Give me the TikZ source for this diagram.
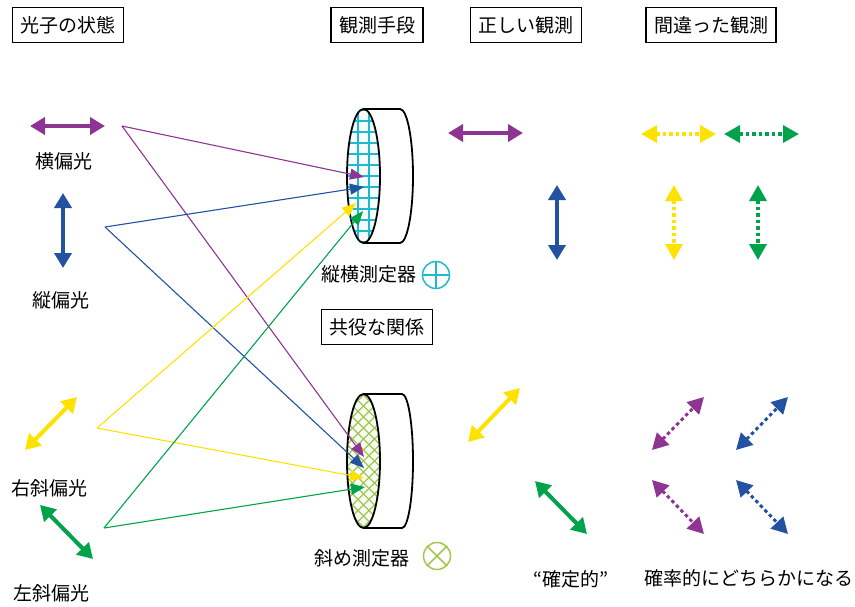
\documentclass[tikz,border=0pt]{standalone}
\usepackage{fontspec}
\setmainfont{Noto Sans CJK JP}
\usetikzlibrary{arrows.meta}

\definecolor{hpol}{RGB}{142,52,146}
\definecolor{vpol}{RGB}{35,82,160}
\definecolor{rpol}{RGB}{255,226,0}
\definecolor{lpol}{RGB}{0,163,76}
\definecolor{gridc}{RGB}{30,185,205}
\definecolor{hatchc}{RGB}{160,200,80}

\begin{document}
\begin{tikzpicture}[
        x=1pt, y=-1pt,
        every node/.style={font=\fontsize{19}{22}\selectfont},
        title/.style={rectangle, draw, line width=1.5pt, minimum height=35pt, inner xsep=8pt},
        lab/.style={inner sep=0pt},
        pol/.style={line width=4pt, {Triangle[length=15pt,width=17pt]}-{Triangle[length=15pt,width=17pt]}},
        guess/.style={line width=3.5pt, dash pattern=on 3.5pt off 3pt, {Triangle[length=16pt,width=17pt]}-{Triangle[length=16pt,width=17pt]}},
        ray/.style={line width=1.1pt, -{Triangle[length=14pt,width=11pt]}},
        body/.style={fill=white, draw, line width=1.8pt},
        meter/.style={circle, draw, line width=1.5pt, minimum size=27pt, inner sep=0pt}
    ]
    \useasboundingbox (0,0) rectangle (855,606);

    % Section titles
    \node[title] (state) at (68,25) {光子の状態};
    \node[title] (means) at (377,25) {観測手段};
    \node[title] (good) at (526,25) {正しい観測};
    \node[title] (bad) at (711,25) {間違った観測};
    \node[title] (conj) at (377,327) {共役な関係};

    % Labels
    \node[lab] (hlab) at (64,161) {横偏光};
    \node[lab] (vlab) at (61,300) {縦偏光};
    \node[lab] (rlab) at (50,488) {右斜偏光};
    \node[lab] (llab) at (51,593) {左斜偏光};
    \node[lab] (hvlab) at (369,274) {縦横測定器};
    \node[lab] (dlab) at (362,558) {斜め測定器};
    \node[lab] (sure) at (571,579) {“確定的”};
    \node[lab] (rand) at (749,578) {確率的にどちらかになる};

    % Detector symbols
    \node[meter, draw=gridc] (hvm) at (436,275) {};
    \draw[gridc, line width=1.5pt] (hvm.north) -- (hvm.south) (hvm.west) -- (hvm.east);
    \node[meter, draw=hatchc] (dm) at (437,556) {};
    \draw[hatchc, line width=1.5pt] (dm.north west) -- (dm.south east) (dm.north east) -- (dm.south west);

    % Horizontal/vertical detector
    \draw[body] (363.5,109) -- (400,109)
        arc[start angle=90, end angle=-90, x radius=13pt, y radius=67pt] -- (363.5,243);
    \begin{scope}
        \clip (363.5,176) ellipse[x radius=16.5pt, y radius=67pt];
        \fill[gridc!4] (340,100) rectangle (390,250);
        \foreach \gx in {347,358,369,380}
            \draw[gridc, line width=1.2pt] (\gx,100) -- (\gx,250);
        \foreach \gy in {110,121,...,242}
            \draw[gridc, line width=1.2pt] (340,\gy) -- (390,\gy);
    \end{scope}
    \draw[line width=1.8pt] (363.5,176) ellipse[x radius=16.5pt, y radius=67pt];

    % Diagonal detector
    \draw[body] (363.5,394) -- (402,394)
        arc[start angle=90, end angle=-90, x radius=11pt, y radius=67pt] -- (363.5,528);
    \begin{scope}
        \clip (363.5,461) ellipse[x radius=16.5pt, y radius=67pt];
        \fill[hatchc!6] (340,390) rectangle (390,530);
        \foreach \d in {-154,-143,...,154} {
            \draw[hatchc, line width=1.2pt] (283.5+\d,381) -- ++(160,160);
            \draw[hatchc, line width=1.2pt] (443.5+\d,381) -- ++(-160,160);
        }
    \end{scope}
    \draw[line width=1.8pt] (363.5,461) ellipse[x radius=16.5pt, y radius=67pt];

    % Photon states
    \draw[pol, hpol] (30,126) -- (105,126);
    \draw[pol, vpol] (63,193) -- (63,268);
    \draw[pol, rpol] (25,450) -- (77,397);
    \draw[pol, lpol] (40,505) -- (93,559);

    % Correct results
    \draw[pol, hpol] (448,133) -- (523,133);
    \draw[pol, vpol] (557,185) -- (557,260);
    \draw[pol, rpol] (468,442) -- (520,388);
    \draw[pol, lpol] (535,481) -- (587,534);

    % Wrong results
    \draw[guess, rpol] (641,134) -- (716,134);
    \draw[guess, lpol] (724,134) -- (799,134);
    \draw[guess, rpol] (674,185) -- (674,260);
    \draw[guess, lpol] (758,185) -- (758,260);
    \draw[guess, hpol, line width=3pt] (652,450) -- (704,397);
    \draw[guess, vpol, line width=3pt] (736,450) -- (788,397);
    \draw[guess, hpol, line width=3pt] (652,480) -- (704,534);
    \draw[guess, vpol, line width=3pt] (736,480) -- (788,534);

    % Rays into the detectors
    \coordinate (hsrc) at (122,126);
    \coordinate (vsrc) at (105,227);
    \coordinate (rsrc) at (97,428);
    \coordinate (lsrc) at (104,528);
    \coordinate (h1) at (364,177);
    \coordinate (v1) at (364,187);
    \coordinate (r1) at (356,203);
    \coordinate (l1) at (363,211);
    \coordinate (h2) at (364,457);
    \coordinate (v2) at (364,468);
    \coordinate (r2) at (364,478);
    \coordinate (l2) at (365,487);

    \draw[ray, hpol] (hsrc) -- (h1);
    \draw[ray, hpol] (hsrc) -- (h2);
    \draw[ray, vpol] (vsrc) -- (v1);
    \draw[ray, vpol] (vsrc) -- (v2);
    \draw[ray, rpol] (rsrc) -- (r1);
    \draw[ray, rpol] (rsrc) -- (r2);
    \draw[ray, lpol] (lsrc) -- (l1);
    \draw[ray, lpol] (lsrc) -- (l2);
\end{tikzpicture}
\end{document}
